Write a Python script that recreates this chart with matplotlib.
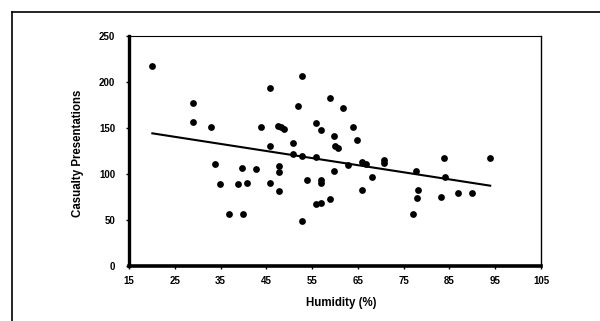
#!/usr/bin/env python3

import matplotlib
matplotlib.use("Agg")
import matplotlib.pyplot as plt
from matplotlib.lines import Line2D

# values
humidity = [20.1, 28.9, 28.9, 32.9, 33.8, 34.9, 36.8, 38.9, 39.7, 39.8,
             40.8, 42.7, 43.8, 45.9, 45.8, 45.9, 47.8, 47.8, 47.8, 47.5,
             48.2, 48.8, 50.8, 50.8, 51.9, 52.8, 52.8, 52.8, 53.9, 55.8,
             55.8, 55.8, 56.9, 56.9, 56.9, 56.9, 58.9, 58.9, 59.8, 59.8,
             60.0, 60.7, 61.8, 62.8, 63.9, 64.9, 66.0, 66.8, 66.0, 68.0,
             70.8, 70.8, 77.1, 77.8, 78.1, 78.0, 83.1, 83.9, 84.0, 86.9,
             89.9, 93.9]
casualties = [217, 177, 157, 151, 111, 89, 57, 89, 107, 57,
              90, 105, 151, 193, 130, 90, 109, 102, 82, 152,
              151, 149, 134, 122, 174, 206, 120, 49, 94, 155,
              118, 67, 148, 93, 90, 69, 183, 73, 141, 103,
              130, 128, 172, 110, 151, 137, 113, 111, 83, 97,
              115, 112, 57, 103, 83, 74, 75, 117, 97, 79,
              79, 117]

# trend line end points as drawn
trend_x = [20.1, 93.9]
trend_y = [144.2, 87.3]

x_ticks = [15, 25, 35, 45, 55, 65, 75, 85, 95, 105]
y_ticks = [0, 50, 100, 150, 200, 250]

plt.rcParams['font.family'] = ['Liberation Sans', 'DejaVu Sans']
plt.rcParams['font.weight'] = 'bold'

fig = plt.figure(figsize=(6.0, 3.21), dpi=100)
ax = fig.add_axes([129/600, 1 - 266/321, 412/600, 230/321])

ax.scatter(humidity, casualties, s=24, color='black', zorder=3, linewidths=0)
ax.plot(trend_x, trend_y, color='black', lw=1.5, zorder=2)

ax.set_xlim(15, 105)
ax.set_ylim(0, 250)
ax.set_xticks(x_ticks)
ax.set_yticks(y_ticks)
ax.tick_params(axis='both', direction='out', length=2, width=1, labelsize=7)
ax.tick_params(axis='y', pad=8)
ax.tick_params(axis='x', pad=5)
for lbl in ax.get_xticklabels() + ax.get_yticklabels():
    lbl.set_fontweight('bold')

ax.spines['left'].set_linewidth(2.4)
ax.spines['bottom'].set_linewidth(2.6)
ax.spines['top'].set_linewidth(0.8)
ax.spines['right'].set_linewidth(1.0)

ax.set_xlabel("Humidity (%)", fontsize=8.3, fontweight='bold')
ax.set_ylabel("Casualty Presentations", fontsize=8.3, fontweight='bold')
ax.xaxis.set_label_coords(0.516, -0.135)
ax.yaxis.set_label_coords(-0.11, 0.49)

# outer frame of the scanned figure
fig.add_artist(Line2D([11.5/600, 1.0], [1 - 11.5/321, 1 - 11.5/321],
                      transform=fig.transFigure, color='black', lw=1.2))
fig.add_artist(Line2D([11.5/600, 11.5/600], [0.0, 1 - 11.5/321],
                      transform=fig.transFigure, color='black', lw=1.2))

fig.savefig("out.png", dpi=100)
plt.close(fig)
